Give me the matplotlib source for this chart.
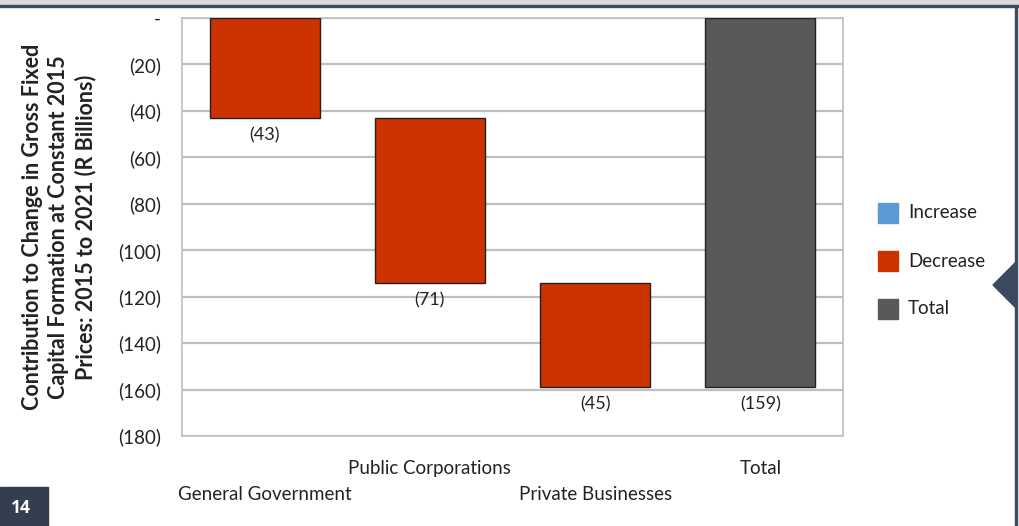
import numpy as np
import matplotlib.pyplot as plt
from matplotlib.patches import Rectangle, Polygon

# Waterfall: contribution to change in GFCF, 2015 to 2021 (R billions)
categories = ["General Government", "Public Corporations", "Private Businesses", "Total"]
changes = [-43, -71, -45]
total = -159
y_ticks = [0, -20, -40, -60, -80, -100, -120, -140, -160, -180]

RED = "#CC3300"
GREY = "#595959"
BLUE = "#5B9BD5"
NAVY = "#3B4A5E"

plt.rcParams["font.family"] = ["Lato", "DejaVu Sans"]

fig = plt.figure(figsize=(10.2, 5.26), dpi=100)
ax = fig.add_axes([182 / 1020, 1 - 436 / 526, 661 / 1020, 418 / 526])

# running bottoms for the floating bars
tops = np.concatenate([[0], np.cumsum(changes)[:-1]])
x = np.arange(len(categories))
width = 0.667

ax.bar(x[:3], changes, bottom=tops, width=width, color=RED,
       edgecolor="#222222", linewidth=1, zorder=3)
ax.bar(x[3], total, width=width, color=GREY, edgecolor="#222222",
       linewidth=1, zorder=3)

ends = list(tops + np.array(changes)) + [total]
vals = changes + [total]
for xi, end, v in zip(x, ends, vals):
    ax.text(xi, end - 7.5, f"({abs(v)})", ha="center", va="center",
            fontsize=13, color="#222222")

ax.set_xlim(-0.5, 3.5)
ax.set_ylim(-180, 0)
ax.set_yticks(y_ticks)
ax.set_yticklabels(["-"] + [f"({abs(t)})" for t in y_ticks[1:]])
ax.tick_params(axis="y", length=0, pad=15, labelsize=13.5, colors="#222222")
ax.set_xticks([])
ax.grid(axis="y", color="#BFBFBF", linewidth=1.6, zorder=0)
for s in ax.spines.values():
    s.set_color("#BFBFBF")
    s.set_linewidth(1.2)

# staggered category labels
for i, name in enumerate(categories):
    yoff = -32 / 2.322 if i % 2 else -58 / 2.322
    ax.text(i, -180 + yoff, name, ha="center", va="center", fontsize=13.5,
            color="#222222", clip_on=False)

fig.text(59 / 1020, 1 - 227 / 526,
         "Contribution to Change in Gross Fixed\nCapital Formation at Constant 2015\nPrices: 2015 to 2021 (R Billions)",
         rotation=90, ha="center", va="center", fontsize=15.5,
         fontweight="bold", color="#222222", linespacing=1.3)

# legend drawn by hand
for yy, col, lab in [(213, BLUE, "Increase"), (261, RED, "Decrease"), (309, GREY, "Total")]:
    fig.patches.append(Rectangle((878 / 1020, 1 - (yy + 10) / 526), 20 / 1020, 20 / 526,
                                 transform=fig.transFigure, color=col))
    fig.text(908 / 1020, 1 - yy / 526, lab, ha="left", va="center",
             fontsize=13.5, color="#222222")

# page furniture: top band, right border with pointer, page number
fig.patches.append(Rectangle((0, 1 - 5 / 526), 1, 5 / 526, transform=fig.transFigure,
                             color="#D9D9D9"))
fig.patches.append(Rectangle((0, 1 - 7 / 526), 1, 2 / 526, transform=fig.transFigure,
                             color=NAVY))
fig.patches.append(Rectangle((1015 / 1020, 0), 2 / 1020, 1 - 7 / 526,
                             transform=fig.transFigure, color=NAVY))
fig.patches.append(Polygon([(993 / 1020, 1 - 285 / 526), (1016 / 1020, 1 - 262 / 526),
                            (1016 / 1020, 1 - 308 / 526)], closed=True,
                           transform=fig.transFigure, color=NAVY))
fig.patches.append(Rectangle((0, 0), 48 / 1020, 39 / 526, transform=fig.transFigure,
                             color="#333F50"))
fig.text(21 / 1020, 1 - 508 / 526, "14", ha="center", va="center", fontsize=12.5,
         fontweight="bold", color="white", family=["Open Sans", "DejaVu Sans"])

fig.savefig("out.png", dpi=100)
